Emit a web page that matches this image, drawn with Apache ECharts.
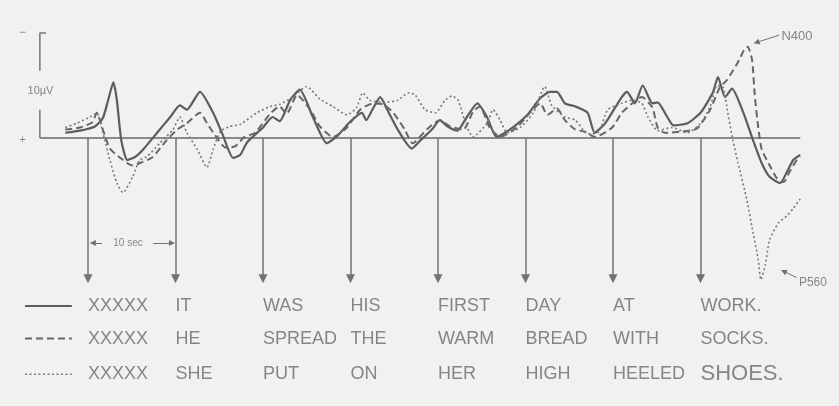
<!DOCTYPE html>
<html>
<head>
<meta charset="utf-8">
<script src="https://cdn.jsdelivr.net/npm/echarts@6/dist/echarts.min.js"></script>
<style>
  html, body { margin: 0; padding: 0; background: #f1f1ef; }
  #main { width: 839px; height: 406px; }
</style>
</head>
<body>
<div id="main"></div>
<script>
// word onsets (ms), one word per second
const onsetsMs = [0, 1000, 2000, 3000, 4000, 5000, 6000, 7000];

const wordsRow1 = ['XXXXX', 'IT', 'WAS', 'HIS', 'FIRST', 'DAY', 'AT', 'WORK.'];
const wordsRow2 = ['XXXXX', 'HE', 'SPREAD', 'THE', 'WARM', 'BREAD', 'WITH', 'SOCKS.'];
const wordsRow3 = ['XXXXX', 'SHE', 'PUT', 'ON', 'HER', 'HIGH', 'HEELED', 'SHOES.'];

// [ms, µV]  (negative plotted up)
const solidWave = [
    [-260, -0.5], [-90, -0.7], [80, -1.1], [170, -1.9], [230, -3.6], [290, -5.3], [330, -3.6],
    [380, 0.2], [450, 2.1], [540, 1.8], [630, 1.1], [790, -0.5], [940, -2.0], [1050, -3.1],
    [1130, -2.7], [1280, -4.4], [1430, -2.4], [1540, -0.3], [1660, 1.9], [1740, 1.6], [1820, 0.4],
    [2000, -1.0], [2110, -2.0], [2190, -1.6], [2310, -3.6], [2420, -4.6], [2570, -2.0], [2730, 0.5],
    [2850, -0.2], [2990, -1.5], [3130, -2.4], [3180, -1.7], [3250, -2.7], [3340, -3.9], [3420, -2.7],
    [3540, -0.8], [3700, 1.0], [3790, 0.3], [3930, -0.8], [4020, -1.7], [4110, -1.1], [4220, -0.7],
    [4330, -2.0], [4450, -3.3], [4560, -2.0], [4670, -0.1], [4820, -0.8], [5020, -2.2], [5170, -3.8],
    [5280, -4.4], [5360, -4.4], [5450, -3.3], [5570, -3.0], [5710, -2.4], [5790, -0.5], [5910, -1.4],
    [6100, -3.9], [6160, -4.4], [6250, -3.3], [6340, -5.0], [6450, -3.3], [6510, -3.4], [6620, -2.0],
    [6690, -1.2], [6850, -1.4], [7000, -2.4], [7140, -4.3], [7200, -5.8], [7280, -3.9], [7360, -4.7],
    [7490, -2.4], [7600, 0.2], [7700, 2.4], [7790, 3.7], [7910, 4.3], [7990, 3.2], [8060, 2.1], [8140, 1.6]
];

const dashedWave = [
    [-260, -0.8], [-90, -1.0], [50, -1.5], [100, -2.4], [170, -0.8], [250, 1.0], [370, 1.9],
    [500, 2.6], [590, 2.4], [740, 1.8], [900, 0.2], [1020, -0.8], [1130, -1.4], [1280, -2.4],
    [1360, -1.4], [1450, -0.3], [1570, 0.9], [1680, 0.8], [1790, -0.1], [1910, -0.5], [2080, -2.3],
    [2190, -3.0], [2270, -2.3], [2390, -4.1], [2540, -2.7], [2650, -1.1], [2800, -0.1], [2960, -1.0],
    [3110, -2.7], [3260, -3.3], [3370, -3.2], [3490, -2.4], [3620, -0.8], [3710, 0.5], [3870, -0.8],
    [4020, -1.7], [4140, -1.1], [4290, -0.8], [4400, -2.5], [4480, -3.0], [4590, -1.0], [4710, -0.1],
    [4900, -1.0], [5050, -2.4], [5170, -3.3], [5250, -2.2], [5360, -2.8], [5450, -1.7], [5570, -0.8],
    [5680, -0.6], [5790, -0.1], [5990, -1.0], [6100, -2.4], [6220, -3.3], [6330, -3.9], [6450, -2.9],
    [6510, -1.0], [6590, -0.5], [6770, -0.6], [6960, -0.9], [7110, -2.7], [7220, -4.8], [7300, -5.5],
    [7420, -7.1], [7500, -8.4], [7540, -8.7], [7590, -7.4], [7620, -4.1], [7660, -1.0], [7700, 1.1],
    [7790, 2.6], [7870, 3.8], [7950, 4.2], [8020, 3.2], [8100, 2.1], [8140, 1.8]
];

const dottedWave = [
    [-260, -1.0], [-130, -1.4], [20, -2.0], [100, -2.4], [170, -0.5], [250, 2.1], [330, 4.3],
    [400, 5.2], [510, 3.7], [590, 2.1], [670, 1.8], [820, 0.5], [970, -0.8], [1050, -2.0],
    [1130, -0.5], [1250, 1.1], [1360, 2.8], [1430, 1.1], [1510, -0.6], [1620, -1.1], [1740, -1.3],
    [1930, -2.4], [2080, -3.0], [2190, -3.2], [2340, -3.9], [2500, -4.9], [2650, -3.7], [2800, -3.0],
    [2960, -2.2], [3070, -2.9], [3140, -4.3], [3220, -3.6], [3390, -3.4], [3540, -3.6], [3660, -4.3],
    [3740, -4.1], [3850, -2.7], [3970, -2.4], [4080, -3.6], [4160, -4.0], [4230, -3.6], [4310, -1.5],
    [4400, -0.1], [4560, -1.4], [4630, -2.7], [4710, -1.7], [4790, -0.5], [4940, -1.0], [5090, -2.4],
    [5220, -4.9], [5300, -3.1], [5450, -2.0], [5570, -1.7], [5710, -0.4], [5830, -0.5], [5940, -2.7],
    [6100, -3.3], [6220, -3.6], [6330, -3.3], [6400, -2.0], [6510, -0.7], [6670, -1.0], [6850, -0.5],
    [7000, -1.4], [7110, -3.0], [7190, -5.0], [7260, -4.8], [7310, -2.5], [7370, 0.2], [7430, 2.4],
    [7530, 5.9], [7600, 9.0], [7660, 11.6], [7690, 13.5], [7740, 12.1], [7790, 9.7], [7890, 8.1],
    [7990, 7.4], [8060, 6.7], [8140, 5.8]
];

const chartDom = document.getElementById('main');
const myChart = echarts.init(chartDom, null, { renderer: 'canvas' });

const FONT = 'Liberation Sans, Arial, sans-serif';
const INK = '#6a6a6a';
const rowY = [16.0, 19.1, 22.5];

function wordSeries(words, y, bigLast) {
    return {
        type: 'scatter',
        symbolSize: 0,
        silent: true,
        data: onsetsMs.map((t, i) => ({
            value: [t, y],
            label: {
                formatter: words[i],
                fontSize: bigLast && i === words.length - 1 ? 22 : 18
            }
        })),
        label: {
            show: true,
            position: 'right',
            distance: 0,
            color: INK,
            fontFamily: FONT
        }
    };
}

function textAt(x, y, text, size, align) {
    return {
        type: 'scatter',
        symbolSize: 0,
        silent: true,
        data: [[x, y]],
        label: {
            show: true,
            position: align === 'center' ? 'inside' : 'right',
            distance: 0,
            formatter: text,
            fontSize: size,
            color: INK,
            fontFamily: FONT
        }
    };
}

function plainLine(data, style) {
    return {
        type: 'line',
        data: data,
        symbol: 'none',
        silent: true,
        lineStyle: style
    };
}

function arrows(segments, headSize, width) {
    return {
        type: 'line',
        data: [],
        silent: true,
        markLine: {
            silent: true,
            symbol: ['none', 'triangle'],
            symbolSize: headSize,
            label: { show: false },
            lineStyle: { color: '#727272', width: width, type: 'solid' },
            data: segments.map(s => [{ coord: s[0] }, { coord: s[1] }])
        }
    };
}

const solidStyle = { color: '#5c5c5c', width: 2.2 };
const dashedStyle = { color: '#666', width: 2, type: [7, 4] };
const dottedStyle = { color: '#7a7a7a', width: 1.6, type: [2, 2.5] };

const option = {
    backgroundColor: '#f1f1ef',
    animation: false,
    grid: { left: 18, right: 33.5, top: 12, bottom: 16 },
    xAxis: { type: 'value', min: -800, max: 8200, show: false },
    yAxis: { type: 'value', min: -12, max: 24, inverse: true, show: false },
    series: [
        // baseline
        plainLine([[-550, 0], [8140, 0]], { color: '#8a8a8a', width: 2 }),
        // word-onset arrows
        arrows(onsetsMs.map(t => [[t, 0], [t, 13.4]]), 9, 1.5),
        // small pointer arrows: 10 sec, N400, P560
        arrows([
            [[160, 10], [55, 10]],
            [[745, 10], [960, 10]],
            [[7900, -9.8], [7640, -9.1]],
            [[8100, 13.3], [7950, 12.7]]
        ], 6, 1),
        // calibration bar
        plainLine([[-480, -10], [-550, -10], [-550, -6.4]], { color: '#777', width: 1.5 }),
        plainLine([[-550, -2.7], [-550, 0]], { color: '#777', width: 1.5 }),
        textAt(-543, -4.5, '10µV', 11, 'center'),
        textAt(-790, -10, '−', 12),
        textAt(-785, 0.2, '+', 11),
        textAt(457, 10, '10 sec', 10, 'center'),
        textAt(7925, -9.7, 'N400', 13),
        textAt(8125, 13.8, 'P560', 12),
        // waveforms
        { name: 'solid', type: 'line', data: solidWave, symbol: 'none', smooth: 0.2, silent: true, lineStyle: solidStyle },
        { name: 'dashed', type: 'line', data: dashedWave, symbol: 'none', smooth: 0.2, silent: true, lineStyle: dashedStyle },
        { name: 'dotted', type: 'line', data: dottedWave, symbol: 'none', smooth: 0.2, silent: true, lineStyle: dottedStyle },
        // legend keys
        plainLine([[-720, rowY[0]], [-185, rowY[0]]], solidStyle),
        plainLine([[-720, rowY[1]], [-185, rowY[1]]], dashedStyle),
        plainLine([[-720, rowY[2]], [-185, rowY[2]]], dottedStyle),
        // sentences
        wordSeries(wordsRow1, rowY[0]),
        wordSeries(wordsRow2, rowY[1]),
        wordSeries(wordsRow3, rowY[2], true)
    ]
};

myChart.setOption(option);

window.addEventListener('resize', function () {
    myChart.resize();
});
</script>
</body>
</html>
